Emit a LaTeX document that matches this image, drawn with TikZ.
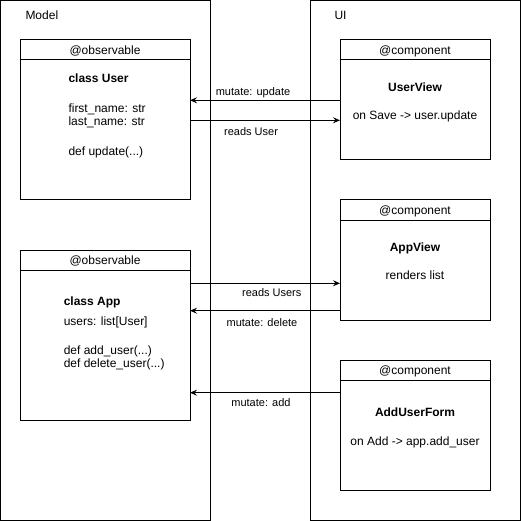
\documentclass[tikz,border=0pt]{standalone}
\usepackage{fontspec}
\setmainfont{Liberation Sans}
\usetikzlibrary{arrows.meta,positioning}

\begin{document}
\begin{tikzpicture}[x=1pt,y=-1pt,line width=1pt,
  head/.style={draw, minimum width=#1, minimum height=20pt, inner sep=0pt, outer sep=0pt, text height=9pt, text depth=-1.2pt, font=\fontsize{12}{14}\selectfont},
  body/.style={draw, minimum width=#1, inner sep=0pt, outer sep=0pt},
  txt/.style={inner sep=0pt, align=left, font=\fontsize{12}{13.5}\selectfont},
  lbl/.style={inner sep=0pt, text height=8pt, text depth=1pt, font=\fontsize{11}{13}\selectfont},
  arr/.style={-{Stealth[length=7pt,width=6pt,inset=2.5pt]}}]
\useasboundingbox (0,0) rectangle (521,521);
\draw (0.5,0.5) rectangle (210,520);
\draw (310,0.5) rectangle (520,520);
\node[txt, anchor=base west] (modellbl) at (25,19.6) {Model};
\node[txt, anchor=base west] (uilbl) at (334,19.6) {UI};

\node[head=170pt] (userhead) at (105,50) {@observable};
\node[body=170pt, minimum height=140pt, below=0pt of userhead] (user) {};
\node[txt, anchor=north west] (usertxt) at (68,73.4) {\textbf{class User}\\[16pt] first\_name: str\\ last\_name: str\\[16.5pt] def update(...)};

\node[head=170pt] (apphead) at (105,260) {@observable};
\node[body=170pt, minimum height=150pt, below=0pt of apphead] (app) {};
\node[txt, anchor=north west] (apptxt) at (63.3,296.4) {\textbf{class App}\\[6.5pt] users: list[User]\\[15pt] def add\_user(...)\\ def delete\_user(...)};

\node[head=150pt] (userviewhead) at (415,50) {@component};
\node[body=150pt, minimum height=100pt, below=0pt of userviewhead] (userview) {};
\node[txt, anchor=base] (userviewname) at (415,91.3) {\textbf{UserView}};
\node[txt, anchor=base] (userviewtxt) at (415,120) {on Save -> user.update};

\node[head=150pt] (appviewhead) at (415,210) {@component};
\node[body=150pt, minimum height=100pt, below=0pt of appviewhead] (appview) {};
\node[txt, anchor=base] (appviewname) at (415,251.6) {\textbf{AppView}};
\node[txt, anchor=base] (appviewtxt) at (415,279) {renders list};

\node[head=150pt] (formhead) at (415,370) {@component};
\node[body=150pt, minimum height=110pt, below=0pt of formhead] (form) {};
\node[txt, anchor=base] (formname) at (415,416.6) {\textbf{AddUserForm}};
\node[txt, anchor=base] (formtxt) at (415,445.7) {on Add -> app.add\_user};

\draw[arr] (userview.west |- 0,100.3) -- (user.east |- 0,100.3) node[lbl, pos=0.58, yshift=8.3pt] {mutate: update};
\draw[arr] (user.east |- 0,120.3) -- (userview.west |- 0,120.3) node[lbl, pos=0.407, yshift=-12pt] {reads User};
\draw[arr] (app.east |- 0,283.3) -- (appview.west |- 0,283.3) node[lbl, pos=0.545, yshift=-9.4pt] {reads Users};
\draw[arr] (appview.west |- 0,310.7) -- (app.east |- 0,310.7) node[lbl, pos=0.52, yshift=-12pt] {mutate: delete};
\draw[arr] (form.west |- 0,392.7) -- (app.east |- 0,392.7) node[lbl, pos=0.527, yshift=-10pt] {mutate: add};
\end{tikzpicture}
\end{document}
